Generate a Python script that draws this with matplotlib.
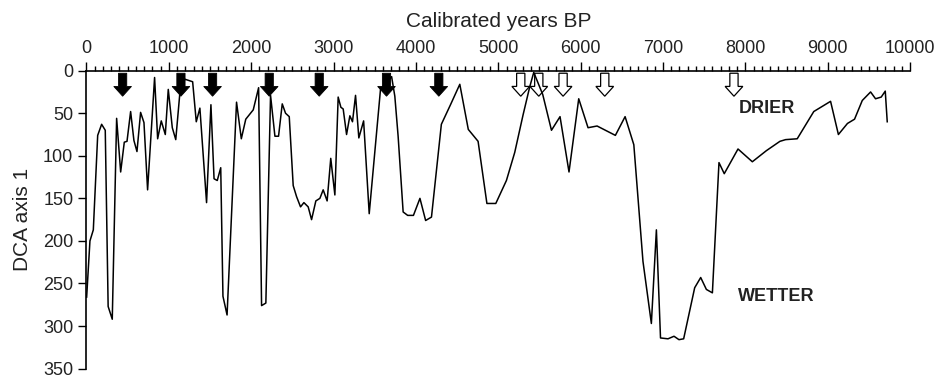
import matplotlib
matplotlib.use("Agg")
import matplotlib.pyplot as plt

plt.rcParams['font.family'] = ['Liberation Sans', 'DejaVu Sans']

years = [2, 42, 83, 136, 184, 228, 263, 313, 366, 415, 459, 492, 536, 576, 613, 657, 698, 742,
         827, 864, 908, 957, 993, 1042, 1084, 1135, 1195, 1289, 1333, 1377, 1458, 1511, 1549,
         1588, 1630, 1657, 1707, 1822, 1880, 1934, 2025, 2090, 2126, 2178, 2235, 2288, 2332,
         2377, 2417, 2462, 2510, 2551, 2599, 2640, 2692, 2733, 2785, 2834, 2874, 2922, 2966,
         3016, 3056, 3089, 3117, 3158, 3198, 3230, 3267, 3307, 3365, 3433, 3570, 3705, 3744,
         3784, 3845, 3900, 3970, 4049, 4118, 4189, 4309, 4420, 4533, 4636, 4755, 4862, 4970,
         5099, 5200, 5301, 5382, 5431, 5540, 5646, 5750, 5859, 5977, 6090, 6200, 6422, 6540,
         6646, 6757, 6859, 6920, 6970, 7061, 7134, 7194, 7251, 7385, 7458, 7527, 7600, 7680,
         7744, 7911, 8085, 8255, 8420, 8489, 8630, 8831, 9035, 9130, 9240, 9326, 9420, 9521,
         9581, 9650, 9699, 9723]
dca = [266, 200, 187, 76, 63, 70, 277, 292, 56, 119, 84, 83, 48, 82, 95, 49, 61, 140,
       8, 80, 59, 75, 22, 67, 81, 25, 10, 13, 60, 44, 155, 40, 127,
       129, 114, 265, 287, 37, 80, 57, 46, 20, 276, 273, 29, 77, 77,
       39, 50, 54, 135, 148, 160, 155, 160, 175, 153, 150, 140, 153, 103,
       146, 31, 43, 45, 75, 53, 60, 29, 79, 59, 168, 22, 7, 30,
       77, 166, 170, 170, 150, 176, 172, 63, 40, 16, 69, 83, 156, 156,
       129, 96, 52, 19, 2, 28, 70, 54, 119, 33, 67, 65, 76, 54,
       87, 224, 297, 187, 314, 315, 312, 316, 315, 255, 243, 257, 261, 108,
       121, 92, 107, 94, 83, 81, 80, 48, 36, 75, 62, 57, 35, 25,
       33, 31, 24, 60]

dry_events = [439, 1147, 1531, 2219, 2826, 3643, 4278]
wet_events = [5273, 5492, 5787, 6293, 7862]

fig = plt.figure(figsize=(9.38, 3.8), dpi=100)
ax = fig.add_axes([0.0922, 0.03, 0.878, 0.784])

ax.plot(years, dca, color='black', lw=1.1)

for x in dry_events:
    ax.arrow(x, 3, 0, 27, width=100, head_width=215, head_length=11.5,
             length_includes_head=True, fc='black', ec='black', lw=0.6)
for x in wet_events:
    ax.arrow(x, 3, 0, 27, width=100, head_width=215, head_length=11.5,
             length_includes_head=True, fc='white', ec='black', lw=0.9)

ax.text(7920, 44, 'DRIER', fontsize=13, fontweight='bold', color='#222222',
        ha='left', va='center')
ax.text(7905, 265, 'WETTER', fontsize=13, fontweight='bold', color='#222222',
        ha='left', va='center')

ax.set_xlim(0, 10000)
ax.set_ylim(350, 0)
ax.xaxis.tick_top()
ax.xaxis.set_label_position('top')
ax.set_xticks(range(0, 10001, 1000))
ax.set_xticks(range(0, 10001, 100), minor=True)
ax.set_yticks(range(0, 351, 50))
ax.tick_params(axis='x', which='major', length=6.5, width=1, labelsize=13, pad=3,
               direction='out', colors='black', labelcolor='#222222')
ax.tick_params(axis='x', which='minor', length=3.5, width=1, direction='out')
ax.tick_params(axis='y', which='major', length=5.5, width=1, labelsize=13, pad=4,
               labelcolor='#222222')
for s in ['bottom', 'right']:
    ax.spines[s].set_visible(False)
ax.spines['top'].set_linewidth(1.2)
ax.spines['left'].set_linewidth(1.2)
ax.set_xlabel('Calibrated years BP', fontsize=15, color='#222222', labelpad=10)
ax.set_ylabel('DCA axis 1', fontsize=15, color='#222222', labelpad=8)

fig.savefig('out.png', dpi=100)
